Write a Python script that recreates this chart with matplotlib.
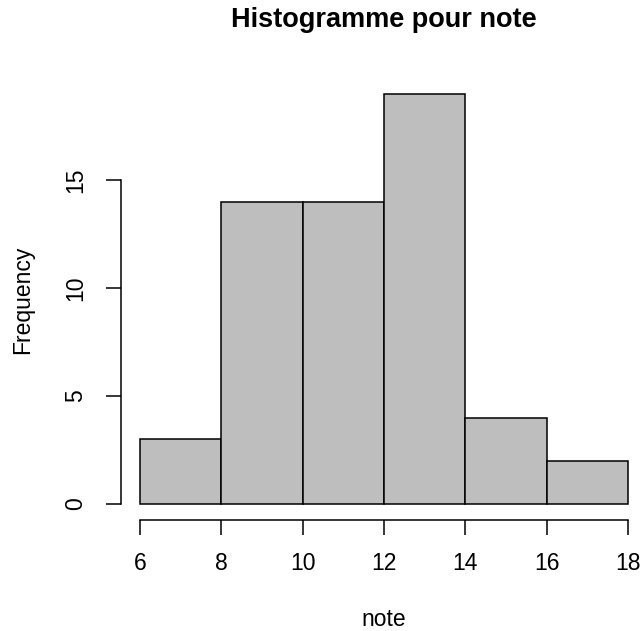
import numpy as np
import matplotlib.pyplot as plt

plt.rcParams['font.family'] = ['Liberation Sans', 'DejaVu Sans']

# histogram of "note": bin edges and counts
breaks = [6, 8, 10, 12, 14, 16, 18]
counts = [3, 14, 14, 19, 4, 2]
x_ticks = [6, 8, 10, 12, 14, 16, 18]
y_ticks = [0, 5, 10, 15]

fig = plt.figure(figsize=(6.42, 6.31), dpi=100)
ax = fig.add_axes([0.1877, 0.1753, 0.8209, 0.7017])

edges = np.array(breaks, dtype=float)
ax.bar(edges[:-1], counts, width=np.diff(edges), align='edge',
       color='#bebebe', edgecolor='black', linewidth=1.1)

# R style: 4% padding, no box
ax.set_xlim(5.52, 18.48)
ax.set_ylim(-0.76, 19.76)
for s in ['top', 'right']:
    ax.spines[s].set_visible(False)
ax.spines['bottom'].set_bounds(6, 18)
ax.spines['left'].set_bounds(0, 15)
for s in ['bottom', 'left']:
    ax.spines[s].set_linewidth(1.1)

ax.set_xticks(x_ticks)
ax.set_yticks(y_ticks)
ax.set_yticklabels([str(v) for v in y_ticks], rotation=90, va='center')
ax.tick_params(axis='both', length=11, width=1.1, labelsize=16.5)
ax.tick_params(axis='x', pad=12)
ax.tick_params(axis='y', pad=13)

fig.text(0.5981, 1 - 20 / 631, 'Histogramme pour note', ha='center', va='center',
         fontsize=19.5, fontweight='bold')
fig.text(0.5981, 1 - 619 / 631, 'note', ha='center', va='center', fontsize=16.5)
fig.text(23 / 642, 1 - 300 / 631, 'Frequency', ha='center', va='center',
         rotation=90, fontsize=16.5)

fig.savefig('out.png', dpi=100)
